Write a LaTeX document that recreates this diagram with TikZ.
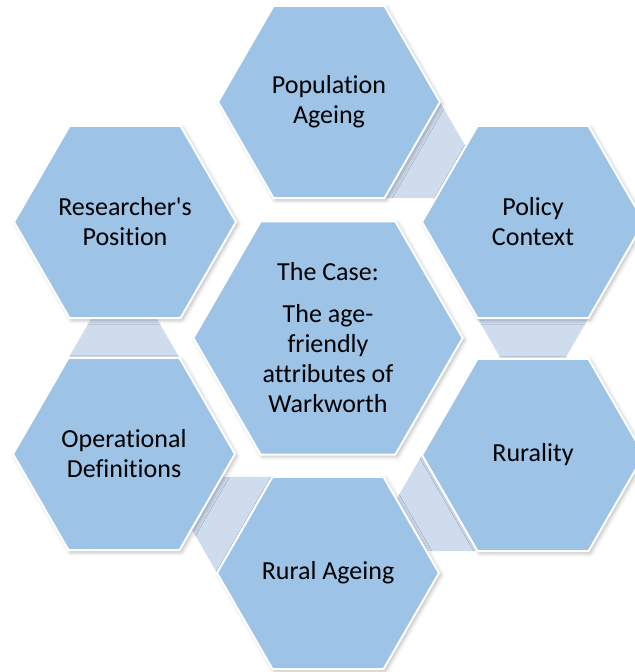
\documentclass[tikz,border=0pt]{standalone}
\usepackage{fontspec}
\setmainfont{Carlito}[Ligatures=NoCommon]
\usetikzlibrary{shapes.geometric,shadows.blur,calc,backgrounds}
\definecolor{hexblue}{RGB}{157,195,230}
\definecolor{linkblue}{RGB}{207,220,238}

\begin{document}
\begin{tikzpicture}[x=0.75pt,y=0.75pt,
  hexbox/.style={regular polygon, regular polygon sides=6, minimum size=166.5pt,
    inner sep=0pt, outer sep=0pt, fill=hexblue, draw=white, line width=1.5pt,
    align=center, font=\fontsize{19.5}{22.5}\selectfont,
    blur shadow={shadow xshift=1.5pt, shadow yshift=-1.5pt,
      shadow blur radius=3pt, shadow opacity=28}},
  bighex/.style={hexbox, minimum size=202pt},
  link/.style={fill=linkblue}]
  \useasboundingbox (0,0) rectangle (635,672);

  % centre
  \node[bighex] (case) at (328,334) {The Case:\\[9pt]The age-\\friendly\\attributes of\\Warkworth};

  % ring, clockwise from the top
  \node[hexbox] (pop) at (329,570) {Population\\Ageing};
  \node[hexbox] (policy) at (533,450) {Policy\\Context};
  \node[hexbox] (rural) at (533,217) {Rurality};
  \node[hexbox] (ruralage) at (328,99) {Rural Ageing};
  \node[hexbox] (opdef) at (124,218) {Operational\\Definitions};
  \node[hexbox] (research) at (125,450) {Researcher\textquotesingle s\\Position};

  % links between neighbours, under the hexagons
  \begin{scope}[on background layer]
    \fill[link] (pop.0) -- (pop.-60) -- ($(pop.0)+(pop.-60)-(pop.center)$) -- cycle;
    \fill[link] (policy.-60) -- (policy.-120) -- ($(policy.-60)+(policy.-120)-(policy.center)$) -- cycle;
    \fill[link] (rural.-120) -- (rural.180) -- ($(rural.-120)+(rural.180)-(rural.center)$) -- cycle;
    \fill[link] (ruralage.180) -- (ruralage.120) -- ($(ruralage.180)+(ruralage.120)-(ruralage.center)$) -- cycle;
    \fill[link] (opdef.120) -- (opdef.60) -- ($(opdef.120)+(opdef.60)-(opdef.center)$) -- cycle;
  \end{scope}
\end{tikzpicture}
\end{document}
